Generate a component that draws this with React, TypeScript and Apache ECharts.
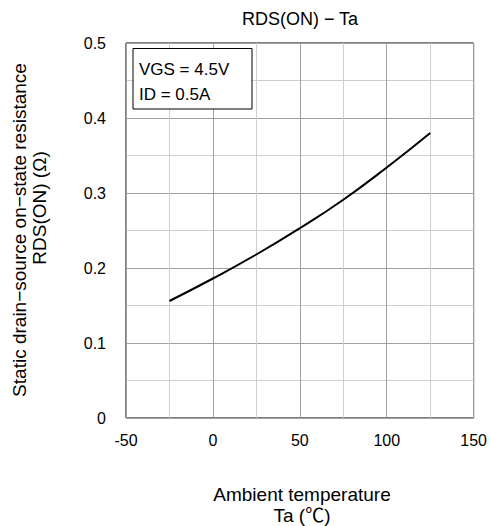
import React, { useEffect, useRef } from "react";
import * as echarts from "echarts";

const temperatures = [-25, 0, 25, 50, 75, 100, 125];
const rdsOn = [0.156, 0.186, 0.218, 0.253, 0.291, 0.334, 0.38];
const titleText = "RDS(ON) − Ta";
const xNameLines = ["Ambient temperature", "Ta (℃)"];
const yNameLines = ["Static drain−source on−state resistance", "RDS(ON) (Ω)"];
const conditionLines = ["VGS = 4.5V", "ID = 0.5A"];

const FONT = "'Liberation Sans', Arial, 'Noto Sans CJK JP', sans-serif";

export default function App() {
  const ref = useRef<HTMLDivElement>(null);
  useEffect(() => {
    if (!ref.current) return;
    const chart = echarts.init(ref.current, undefined, { renderer: "svg" });
    chart.setOption({
      animation: false,
      backgroundColor: "#fff",
      grid: {
        left: 126,
        right: 14,
        top: 43,
        bottom: 108,
        show: true,
        borderColor: "#000",
        borderWidth: 1,
        backgroundColor: "transparent",
      },
      xAxis: {
        type: "value",
        min: -50,
        max: 150,
        interval: 50,
        axisLine: { show: false },
        axisTick: { show: false },
        axisLabel: { color: "#000", fontSize: 16, fontFamily: FONT, margin: 14 },
        splitLine: { show: true, lineStyle: { color: "#a0a0a0", width: 1 } },
        minorTick: { show: false, splitNumber: 2 },
        minorSplitLine: { show: true, lineStyle: { color: "#cfcfcf", width: 1 } },
      },
      yAxis: {
        type: "value",
        min: 0,
        max: 0.5,
        interval: 0.1,
        axisLine: { show: false },
        axisTick: { show: false },
        axisLabel: {
          color: "#000",
          fontSize: 16,
          fontFamily: FONT,
          margin: 20,
          formatter: (v: number) => (v === 0 ? "0" : v.toFixed(1)),
        },
        splitLine: { show: true, lineStyle: { color: "#a0a0a0", width: 1 } },
        minorTick: { show: false, splitNumber: 2 },
        minorSplitLine: { show: true, lineStyle: { color: "#cfcfcf", width: 1 } },
      },
      series: [
        {
          type: "line",
          data: temperatures.map((t, i) => [t, rdsOn[i]]),
          smooth: true,
          symbol: "none",
          lineStyle: { color: "#000", width: 2 },
          z: 5,
        },
      ],
      graphic: [
        {
          type: "text",
          x: 300,
          y: 19,
          style: {
            text: titleText,
            fill: "#000",
            font: `18px ${FONT}`,
            textAlign: "center",
            textVerticalAlign: "middle",
          },
        },
        {
          type: "rect",
          shape: { x: 133, y: 48.5, width: 119, height: 60.5 },
          style: { fill: "#fff", stroke: "#000", lineWidth: 1 },
          z: 10,
        },
        ...conditionLines.map((t, i) => ({
          type: "text",
          x: 139,
          y: 69 + i * 25.5,
          z: 11,
          style: {
            text: t,
            fill: "#000",
            font: `17px ${FONT}`,
            textAlign: "left",
            textVerticalAlign: "middle",
          },
        })),
        ...xNameLines.map((t, i) => ({
          type: "text",
          x: 302,
          y: 494 + i * 21,
          style: {
            text: t,
            fill: "#000",
            font: `19px ${FONT}`,
            textAlign: "center",
            textVerticalAlign: "middle",
          },
        })),
        {
          type: "text",
          x: 19,
          y: 230,
          rotation: Math.PI / 2,
          style: {
            text: yNameLines[0],
            fill: "#000",
            font: `19px ${FONT}`,
            textAlign: "center",
            textVerticalAlign: "middle",
          },
        },
        {
          type: "text",
          x: 39,
          y: 208,
          rotation: Math.PI / 2,
          style: {
            text: yNameLines[1],
            fill: "#000",
            font: `19px ${FONT}`,
            textAlign: "center",
            textVerticalAlign: "middle",
          },
        },
      ],
    });
    return () => chart.dispose();
  }, []);
  return (
    <div
      ref={ref}
      style={{ position: "fixed", left: 0, top: 0, width: 490, height: 526 }}
    />
  );
}
